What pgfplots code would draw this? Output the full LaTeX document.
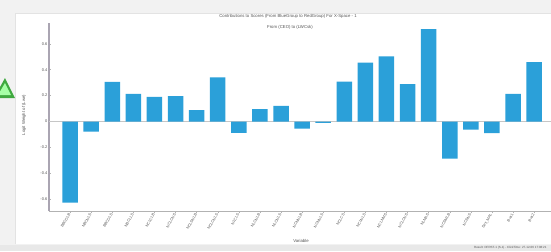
\documentclass[border=0pt]{standalone}
\usepackage{pgfplots}
\pgfplotsset{compat=1.18}
\usepackage{fontspec}
\setmainfont{Liberation Sans}
\definecolor{barblue}{RGB}{43,160,217}
\definecolor{axgray}{RGB}{170,165,178}
\definecolor{txt}{RGB}{85,85,85}
\begin{document}
\begin{tikzpicture}[x=1bp,y=1bp]
\useasboundingbox (0,0) rectangle (551,251);
\fill[gray!10] (0,0) rectangle (551,251);
\fill[white] (15,7) rectangle (551,238);
\draw[gray!22] (15,7) -- (15,238) -- (551,238);
\fill[gray!18] (0,0) rectangle (551,6);
\begin{scope}
\clip (0,0) rectangle (20,251);
\fill[green!55!black!75] (-6,153) -- (5,173) -- (15,153) -- cycle;
\fill[green!35!white] (-2,156) -- (5,168) -- (11,156) -- cycle;
\end{scope}
\begin{axis}[
  at={(49bp,40bp)}, anchor=south west,
  scale only axis, width=502bp, height=188bp,
  xmin=-1, xmax=22.8, ymin=-0.69, ymax=0.76,
  ybar, bar width=15.5bp,
  axis x line*=bottom, axis y line*=left,
  x axis line style={-, draw=gray!60, line width=0.6bp},
  y axis line style={-, draw=axgray, line width=1.6bp},
  ytick={-0.6,-0.4,-0.2,0,0.2,0.4,0.6},
  yticklabels={-0.6,-0.4,-0.2,0,0.2,0.4,0.6},
  xtick={0,...,22},
  xticklabels={BBCOLB,NBCNLS,BBCOLS,NBCLLS,NCLCLB,NCLCNS,NCLSNLB,NCLCNLS,NLCLS,NLCNLB,NLCNLS,NCNNLB,NCNNLS,NCLCS,NCLNLS,NCLNMS,NCLCNS,NLMAS,NCSMLB,NCSNS,Sex\_MAL,Bus1,Bus2},
  x tick label style={rotate=60, anchor=east, font=\fontsize{3.8}{4}\selectfont, text=txt, inner sep=1bp},
  y tick label style={font=\fontsize{4}{5}\selectfont, text=txt, inner sep=1.5bp},
  major tick length=2bp,
  tick style={gray!60, line width=0.4bp},
  tick pos=left,
  extra y ticks={0}, extra y tick labels={},
  extra y tick style={grid=major, major grid style={draw=gray!45, line width=0.5bp}, major tick length=0pt},
  clip=false,
]
\addplot[fill=barblue, draw=none] coordinates {
(0,-0.626) (1,-0.077) (2,0.305) (3,0.214) (4,0.191) (5,0.196) (6,0.088) (7,0.340)
(8,-0.087) (9,0.096) (10,0.121) (11,-0.054) (12,-0.010) (13,0.307) (14,0.454)
(15,0.503) (16,0.289) (17,0.712) (18,-0.286) (19,-0.062) (20,-0.090) (21,0.214) (22,0.459)};
\end{axis}
\node[font=\fontsize{4.3}{5}\selectfont, text=txt] at (288,235) {Contributions to Scores (From BlueGroup to RedGroup) For X-Space - 1};
\node[font=\fontsize{4.3}{5}\selectfont, text=txt] at (290,224) {From (CEO) to (LWCsk)};
\node[font=\fontsize{4.3}{5}\selectfont, text=txt, rotate=90] at (24,136) {Logit Weight of (Lwe)};
\node[font=\fontsize{4.3}{5}\selectfont, text=txt] at (301,10) {Variable};
\node[font=\fontsize{3}{4}\selectfont, text=txt, anchor=east] at (550,3) {Result: DFRST-1 (S-1) - ClickTime: 27-12-06 17:08:21};
\end{tikzpicture}
\end{document}
